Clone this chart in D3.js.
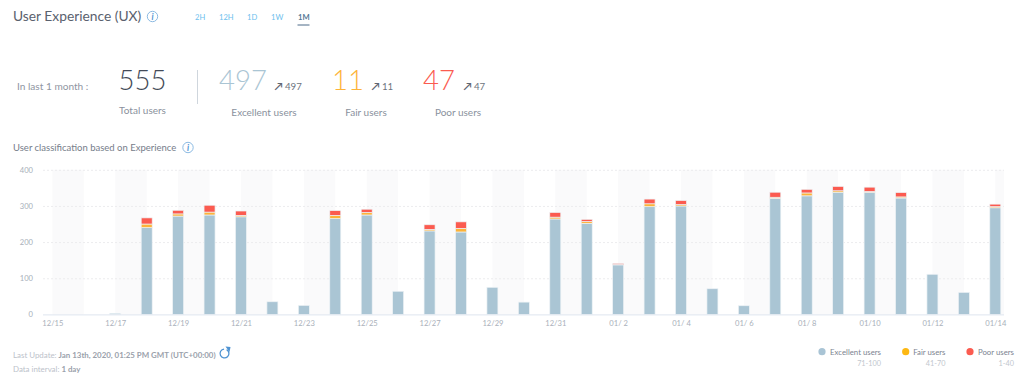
<!DOCTYPE html>
<html lang="en">
<head>
  <meta charset="UTF-8">
  <title>User Experience (UX)</title>
  <script src="https://d3js.org/d3.v7.min.js"></script>
  <style>
    body { margin: 0; background: #fff; overflow: hidden; }
    svg { display: block; font-family: 'Lato', sans-serif; }
    .tick text { font-family: 'Lato', sans-serif; font-size: 7.6px; fill: #a9b0ba; }
  </style>
</head>
<body>
  <svg id="chart" width="1024" height="382"></svg>

  <script>
    const days = ["12/15","12/16","12/17","12/18","12/19","12/20","12/21","12/22","12/23","12/24","12/25",
      "12/26","12/27","12/28","12/29","12/30","12/31","01/ 1","01/ 2","01/ 3","01/ 4","01/ 5","01/ 6",
      "01/ 7","01/ 8","01/ 9","01/10","01/11","01/12","01/13","01/14"];
    const excellent = [0,0,3,240,272,275,270,35,25,265,275,64,231,228,75,34,264,252,137,298,300,71,24,321,328,338,338,322,111,61,295];
    const fair =      [0,0,0,10,6,8,4,0,0,9,7,0,4,10,0,0,5,5,1,8,4,0,0,3,8,4,2,3,0,0,3];
    const poor =      [0,0,0,17,10,19,12,0,0,13,9,0,13,18,0,0,13,6,3,13,11,0,0,14,10,12,12,12,0,0,7];
    const yTicks = [0, 100, 200, 300, 400];
    const tabs = ["2H", "12H", "1D", "1W", "1M"];
    const tabX = [195, 219, 247, 271, 298];
    const seriesNames = ["Excellent users", "Fair users", "Poor users"];
    const seriesRanges = ["71-100", "41-70", "1-40"];
    const seriesColors = ["#aac5d4", "#fdb339", "#fb5b50"];

    const svg = d3.select("#chart");
    const plotLeft = 43, plotRight = 1004;

    const x = d3.scalePoint().domain(days).range([52.4, 995.3]);
    const y = d3.scaleLinear().domain([0, 400]).range([314.4, 169.8]);
    const barWidth = 11;

    // day bands, every other day is shaded
    svg.append("g").selectAll("rect")
      .data(days.filter((d, i) => i % 2 === 0))
      .enter().append("rect")
      .attr("x", d => x(d))
      .attr("y", y(400))
      .attr("width", d => Math.min(x.step(), plotRight - x(d)))
      .attr("height", y(0) - y(400))
      .attr("fill", "#fafafb");

    // grid
    svg.append("g").selectAll("line")
      .data(yTicks.slice(1))
      .enter().append("line")
      .attr("x1", plotLeft).attr("x2", plotRight)
      .attr("y1", d => y(d) + 0.5).attr("y2", d => y(d) + 0.5)
      .attr("stroke", "#ececee")
      .attr("stroke-dasharray", "2,2");

    // stacked bars
    const rows = days.map((d, i) => ({ day: d, excellent: excellent[i], fair: fair[i], poor: poor[i] }));
    const stack = d3.stack().keys(["excellent", "fair", "poor"])(rows);

    svg.append("g").selectAll("g")
      .data(stack)
      .enter().append("g")
      .attr("fill", (d, i) => seriesColors[i])
      .selectAll("rect")
      .data(d => d.filter(p => p[1] > p[0]))
      .enter().append("rect")
      .attr("x", d => x(d.data.day) - barWidth / 2)
      .attr("y", d => y(d[1]))
      .attr("width", barWidth)
      .attr("height", d => y(d[0]) - y(d[1]))
      .attr("stroke", "#eef3f6")
      .attr("stroke-width", 0.7);

    // axes
    const xAxis = svg.append("g")
      .attr("transform", `translate(0,${y(0)})`)
      .call(d3.axisBottom(x).tickValues(days.filter((d, i) => i % 2 === 0)).tickSize(0).tickPadding(6));
    xAxis.select(".domain").remove();
    xAxis.selectAll("text").style("white-space", "pre");

    svg.append("line")
      .attr("x1", plotLeft).attr("x2", plotRight)
      .attr("y1", y(0) + 0.5).attr("y2", y(0) + 0.5)
      .attr("stroke", "#dfe5ef");

    const yAxis = svg.append("g")
      .attr("transform", "translate(33,0)")
      .call(d3.axisLeft(y).tickValues(yTicks).tickSize(0).tickPadding(0));
    yAxis.select(".domain").remove();

    function label(txt, px, py, size, color, anchor, weight) {
      return svg.append("text")
        .attr("x", px).attr("y", py)
        .attr("font-size", size)
        .attr("fill", color)
        .attr("text-anchor", anchor || "start")
        .attr("font-weight", weight || 400)
        .text(txt);
    }

    function infoIcon(cx, cy) {
      svg.append("circle").attr("cx", cx).attr("cy", cy).attr("r", 5.2)
        .attr("fill", "none").attr("stroke", "#7fb2df").attr("stroke-width", 0.9);
      label("i", cx, cy + 3.2, 8.5, "#4f93d2", "middle", 700).attr("font-style", "italic");
    }

    // header
    label("User Experience (UX)", 13, 20.5, 13.8, "#5a616e");
    infoIcon(152.5, 16.5);
    tabs.forEach((t, i) => {
      label(t, tabX[i], 20, 7.6, i === 4 ? "#557796" : "#6cc0ee", "start", i === 4 ? 700 : 400);
    });
    svg.append("line").attr("x1", 297.5).attr("x2", 309.5).attr("y1", 25).attr("y2", 25)
      .attr("stroke", "#4d6b88").attr("stroke-width", 1);

    // summary
    label("In last 1 month :", 17, 89.5, 10.1, "#8f96a2");
    label("555", 142.5, 89.5, 27.5, "#434a57", "middle", 300);
    label("Total users", 142.5, 113.5, 10, "#8a919d", "middle");
    svg.append("line").attr("x1", 197.5).attr("x2", 197.5).attr("y1", 70).attr("y2", 104)
      .attr("stroke", "#cfd6dd");

    const bigVals = ["497", "11", "47"];
    const bigX = [219, 332, 423];
    const deltaX = [285, 382, 474];
    const nameX = [264, 366, 458];
    bigVals.forEach((v, i) => {
      label(v, bigX[i], 89.5, 27.5, seriesColors[i], "start", 300);
      label("\u2197", deltaX[i] - 2.5, 89.5, 11, "#5f6672", "end", 700);
      label(v, deltaX[i], 89.5, 9.7, "#6d7480");
      label(seriesNames[i], nameX[i], 115.5, 10, "#8a919d", "middle");
    });

    // chart title
    label("User classification based on Experience", 13, 151, 9.5, "#767d8a");
    infoIcon(188, 147.5);

    // footer
    const upd = label("Last Update: ", 13, 358, 7.9, "#bcc2ca");
    upd.append("tspan").attr("fill", "#9aa1ab").attr("font-weight", 700)
      .text("Jan 13th, 2020, 01:25 PM GMT (UTC+00:00)");
    const intv = label("Data interval: ", 13, 372, 7.9, "#bcc2ca");
    intv.append("tspan").attr("fill", "#9aa1ab").attr("font-weight", 700).text("1 day");

    // refresh icon
    svg.append("path")
      .attr("transform", "translate(224.5,353.5)")
      .attr("d", d3.arc().innerRadius(3.8).outerRadius(5.1).startAngle(0.5).endAngle(Math.PI * 2 - 0.1)())
      .attr("fill", "#4f93d2");
    svg.append("path")
      .attr("d", d3.line()([[225.5, 346.5], [230.5, 347], [229.5, 352]]))
      .attr("fill", "#4f93d2");

    // legend
    const legendDot = [822, 905.7, 970];
    const legendEnd = [881, 945.5, 1014];
    seriesNames.forEach((n, i) => {
      svg.append("circle").attr("cx", legendDot[i]).attr("cy", 351.7).attr("r", 3.6).attr("fill", ["#a9c4d5", "#fdb813", "#fb5b50"][i]);
      label(n, legendEnd[i], 355, 7.8, "#7c838f", "end");
      label(seriesRanges[i], legendEnd[i], 366, 7.3, "#c2c7ce", "end");
    });
  </script>
</body>
</html>
